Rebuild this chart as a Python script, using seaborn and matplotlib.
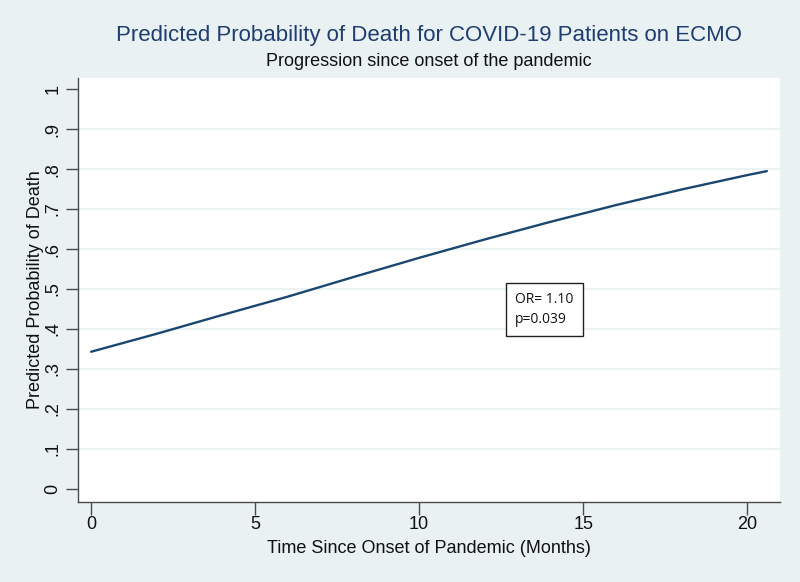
import numpy as np
import pandas as pd
import seaborn as sns
import matplotlib.pyplot as plt

# Values
months = [0, 2, 4, 6, 8, 10, 12, 14, 16, 18, 20, 20.6]
prob = [0.343, 0.388, 0.435, 0.481, 0.530, 0.578, 0.624, 0.668, 0.710, 0.749, 0.785, 0.795]
yticks = [0, .1, .2, .3, .4, .5, .6, .7, .8, .9, 1]
ytick_labels = ['0', '.1', '.2', '.3', '.4', '.5', '.6', '.7', '.8', '.9', '1']
xticks = [0, 5, 10, 15, 20]
stats_text = 'OR= 1.10\np=0.039'

df = pd.DataFrame({'months': months, 'prob': prob})

sns.set_theme(style='white')
plt.rcParams['font.family'] = ['Liberation Sans', 'DejaVu Sans']

bg = '#e9f1f3'
fig, ax = plt.subplots(figsize=(8, 5.82), dpi=100)
fig.patch.set_facecolor(bg)
fig.subplots_adjust(left=78/800, right=780/800, top=1-78/582, bottom=1-502/582)

sns.lineplot(data=df, x='months', y='prob', color='#1a476f', linewidth=1.7, ax=ax)

ax.set_xlim(-0.4, 21.0)
ax.set_ylim(-0.033, 1.028)
ax.set_xticks(xticks)
ax.set_yticks(yticks)
ax.set_yticklabels(ytick_labels, rotation=90, va='center')

# light horizontal grid, skipping the ends
ax.grid(axis='y', color='#e8f1f3', linewidth=1.2)
gl = ax.get_ygridlines()
gl[0].set_visible(False)
gl[-1].set_visible(False)

for s in ['top', 'right']:
    ax.spines[s].set_visible(False)
for s in ['left', 'bottom']:
    ax.spines[s].set_color('#4a4a4a')
    ax.spines[s].set_linewidth(1.0)

ax.tick_params(axis='both', direction='out', length=9, width=1, color='#4a4a4a',
               labelsize=13, labelcolor='#111111', bottom=True, left=True)
ax.tick_params(axis='y', pad=3)
ax.tick_params(axis='x', pad=1)

ax.set_xlabel('Time Since Onset of Pandemic (Months)', fontsize=13, color='#111111', labelpad=5)
ax.set_ylabel('Predicted Probability of Death', fontsize=13, color='#111111', labelpad=0)

fig.text(429/800, 1-36/582, 'Predicted Probability of Death for COVID-19 Patients on ECMO',
         ha='center', va='center', fontsize=16, color='#1f3d6e')
fig.text(429/800, 1-62/582, 'Progression since onset of the pandemic',
         ha='center', va='center', fontsize=13, color='#111111')

ax.text(0.623, 0.454, stats_text, transform=ax.transAxes, ha='left', va='center',
        fontsize=10, color='#111111', linespacing=1.5,
        family=['Open Sans', 'DejaVu Sans'],
        bbox=dict(boxstyle='square,pad=0.65', facecolor='white', edgecolor='#222222', linewidth=1))

fig.savefig('out.png', dpi=100, facecolor=bg)
